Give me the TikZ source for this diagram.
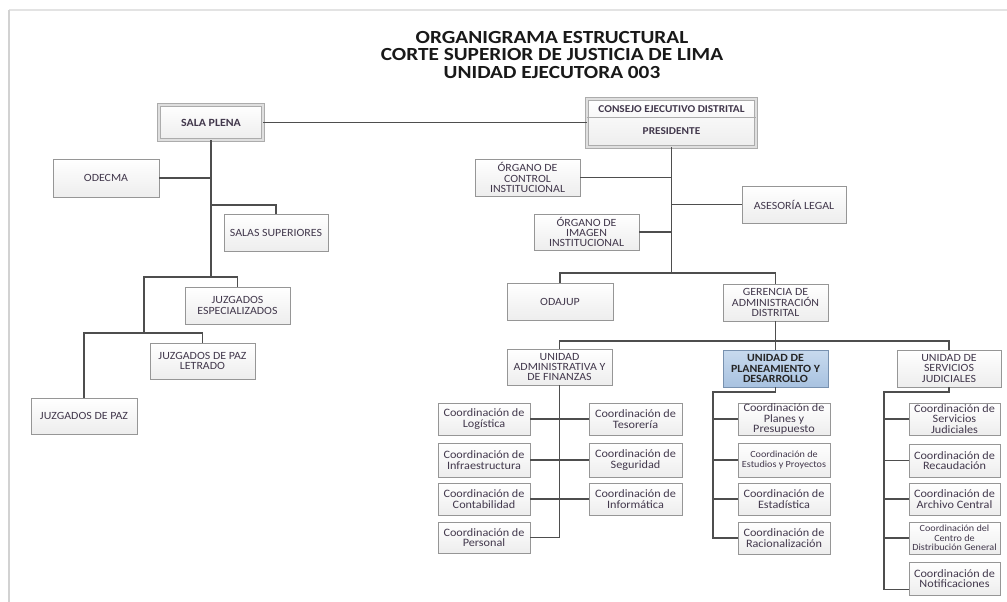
\documentclass[tikz,border=0pt]{standalone}
\usepackage{fontspec}
\setmainfont{Carlito}[FakeStretch=1.08]
\newfontfamily\titlefont{Carlito}[FakeStretch=1.15]
\usetikzlibrary{shadows}
\definecolor{txt}{RGB}{66,56,76}
\definecolor{lin}{RGB}{78,78,78}
\definecolor{bord}{RGB}{150,150,150}
\definecolor{bluetop}{RGB}{200,218,238}
\definecolor{bluebot}{RGB}{168,194,224}
\definecolor{bluebord}{RGB}{120,145,175}
\begin{document}
\begin{tikzpicture}[x=1pt,y=-1pt,
  box/.style={draw=bord, line width=0.8pt, top color=white, bottom color=gray!14,
    inner sep=0pt, align=center, text=txt,
    drop shadow={shadow xshift=1.2pt, shadow yshift=-1.2pt, fill=gray!50, opacity=0.6}},
  wh/.style 2 args={minimum width=#1pt, minimum height=#2pt},
  up/.style={box, font=\fontsize{11}{10.2}\selectfont},
  dbox/.style={box, draw=gray!65, line width=0.9pt, double=gray!25, double distance=1.8pt},
  co/.style={box, font=\fontsize{11.3}{10.3}\selectfont},
  cosm/.style={box, font=\fontsize{9.4}{9.3}\selectfont},
  bluebox/.style={box, top color=bluetop, bottom color=bluebot, draw=bluebord, text=black!85,
    font=\fontsize{11}{10.2}\selectfont\bfseries},
  hd/.style={font=\fontsize{10.5}{11}\selectfont\bfseries, text=txt},
  conn/.style={draw=lin, line width=1.7pt, line join=miter},
]
\useasboundingbox (0,0) rectangle (1007,602);
\fill[white] (0,0) rectangle (1007,602);
% page border
\draw[gray!22, line width=1.5pt] (1007,10) -- (9,10);
\draw[gray!35, line width=2pt] (9,10) -- (9,602);

% title
\node[font=\titlefont\fontsize{18.5}{17.7}\selectfont\bfseries, align=center, text=black!90] (title) at (552,55)
  {ORGANIGRAMA ESTRUCTURAL\\CORTE SUPERIOR DE JUSTICIA DE LIMA\\UNIDAD EJECUTORA 003};

% left branch
\node[dbox, wh={104}{35}, font=\fontsize{11}{11}\selectfont\bfseries] (sala) at (211,122.5) {SALA PLENA};
\node[up, wh={106}{38}] (odecma) at (106,178) {ODECMA};
\node[up, wh={104}{37}] (salas) at (276,232.5) {SALAS SUPERIORES};
\node[up, wh={105}{37}] (juzesp) at (237.5,305.5) {JUZGADOS\\ESPECIALIZADOS};
\node[up, wh={105}{36}] (juzpl) at (202.5,361) {JUZGADOS DE PAZ\\LETRADO};
\node[up, wh={106}{36}] (juzpaz) at (84,416) {JUZGADOS DE PAZ};

% right branch
\node[dbox, wh={169}{48}] (consejo) at (671.5,123) {};
\draw[gray!65, line width=0.8pt] (consejo.west |- 0,117) -- (consejo.east |- 0,117);
\node[hd] (cedT) at (671.5,109) {CONSEJO EJECUTIVO DISTRITAL};
\node[hd] (presT) at (671.5,131) {PRESIDENTE};

\node[up, wh={105}{37}] (occ) at (527.5,177.5) {ÓRGANO DE\\CONTROL\\INSTITUCIONAL};
\node[up, wh={104}{37}] (asesoria) at (794,204.5) {ASESORÍA LEGAL};
\node[up, wh={105}{36}] (imagen) at (586.5,232) {ÓRGANO DE\\IMAGEN\\INSTITUCIONAL};
\node[up, wh={106}{37}] (odajup) at (560,301.5) {ODAJUP};
\node[up, wh={105}{37}] (gerencia) at (775.5,302.5) {GERENCIA DE\\ADMINISTRACIÓN\\DISTRITAL};

\node[up, wh={105}{36}] (uaf) at (559.5,367) {UNIDAD\\ADMINISTRATIVA Y\\DE FINANZAS};
\node[bluebox, wh={105}{37}] (upd) at (775.5,368.5) {UNIDAD DE\\PLANEAMIENTO Y\\DESARROLLO};
\node[up, wh={104}{37}] (usj) at (949,368.5) {UNIDAD DE\\SERVICIOS\\JUDICIALES};

% coordinaciones UAF
\node[co, wh={92}{32}] (log) at (484,419) {Coordinación de\\Logística};
\node[co, wh={93}{32}] (tes) at (635.5,419) {Coordinación de\\Tesorería};
\node[co, wh={92}{34}] (inf) at (484,460) {Coordinación de\\Infraestructura};
\node[co, wh={93}{34}] (seg) at (635.5,460) {Coordinación de\\Seguridad};
\node[co, wh={92}{32}] (con) at (484,499) {Coordinación de\\Contabilidad};
\node[co, wh={93}{32}] (infm) at (635.5,499) {Coordinación de\\Informática};
\node[co, wh={92}{31}] (per) at (484,537.5) {Coordinación de\\Personal};

% coordinaciones UPD
\node[co, wh={92}{32}] (pla) at (784,419) {Coordinación de\\Planes y\\Presupuesto};
\node[cosm, wh={92}{34}] (est) at (784,460) {Coordinación de\\Estudios y Proyectos};
\node[co, wh={92}{32}] (esta) at (784,499) {Coordinación de\\Estadística};
\node[co, wh={92}{32}] (rac) at (784,538) {Coordinación de\\Racionalización};

% coordinaciones USJ
\node[co, wh={91}{32}] (csj) at (954.5,419) {Coordinación de\\Servicios\\Judiciales};
\node[co, wh={91}{33}] (rec) at (954.5,460.5) {Coordinación de\\Recaudación};
\node[co, wh={91}{32}] (arc) at (954.5,499) {Coordinación de\\Archivo Central};
\node[cosm, wh={91}{32}] (dis) at (954.5,538) {Coordinación del\\Centro de\\Distribución General};
\node[co, wh={91}{33}] (nott) at (954.5,578.5) {Coordinación de\\Notificaciones};

% ---- connectors ----
\draw[conn] (sala.east) -- (sala.east -| consejo.west);
\coordinate (sT) at (sala.south |- 0,277);
\coordinate (j1) at (144,277);
\coordinate (j2) at (144,333);
\coordinate (sS) at (sala.south |- 0,205);
\draw[conn] (sala.south) -- (sT);
\draw[conn] (odecma.east) -- (odecma.east -| sala.south);
\draw[conn] (sS) -| (salas.north);
\draw[conn] (juzesp.north) |- (j1) -- (j2);
\draw[conn] (juzpl.north) |- (j2) -| (juzpaz.north);

\coordinate (cT) at (consejo.south |- 0,273);
\draw[conn] (consejo.south) -- (cT);
\draw[conn] (occ.east) -- (occ.east -| consejo.south);
\draw[conn] (asesoria.west) -- (asesoria.west -| consejo.south);
\draw[conn] (imagen.east) -- (imagen.east -| consejo.south);
\draw[conn] (odajup.north) |- (cT) -| (gerencia.north);

\coordinate (gT) at (gerencia.south |- 0,341);
\draw[conn] (gerencia.south) -- (upd.north);
\draw[conn] (uaf.north) |- (gT) -| (usj.north);

\draw[conn] (uaf.south) |- (per.east);
\draw[conn] (log.east) -- (tes.west);
\draw[conn] (inf.east) -- (seg.west);
\draw[conn] (con.east) -- (infm.west);

\coordinate (u1) at (713,392);
\draw[conn] (upd.south) |- (u1) |- (rac.west);
\draw[conn] (pla.west) -- (pla.west -| u1);
\draw[conn] (est.west) -- (est.west -| u1);
\draw[conn] (esta.west) -- (esta.west -| u1);

\coordinate (v1) at (884,392);
\draw[conn] (usj.south) |- (v1) |- ([yshift=6pt]nott.south west);
\draw[conn] (csj.west) -- (csj.west -| v1);
\draw[conn] (rec.west) -- (rec.west -| v1);
\draw[conn] (arc.west) -- (arc.west -| v1);
\draw[conn] (dis.west) -- (dis.west -| v1);
\end{tikzpicture}
\end{document}
